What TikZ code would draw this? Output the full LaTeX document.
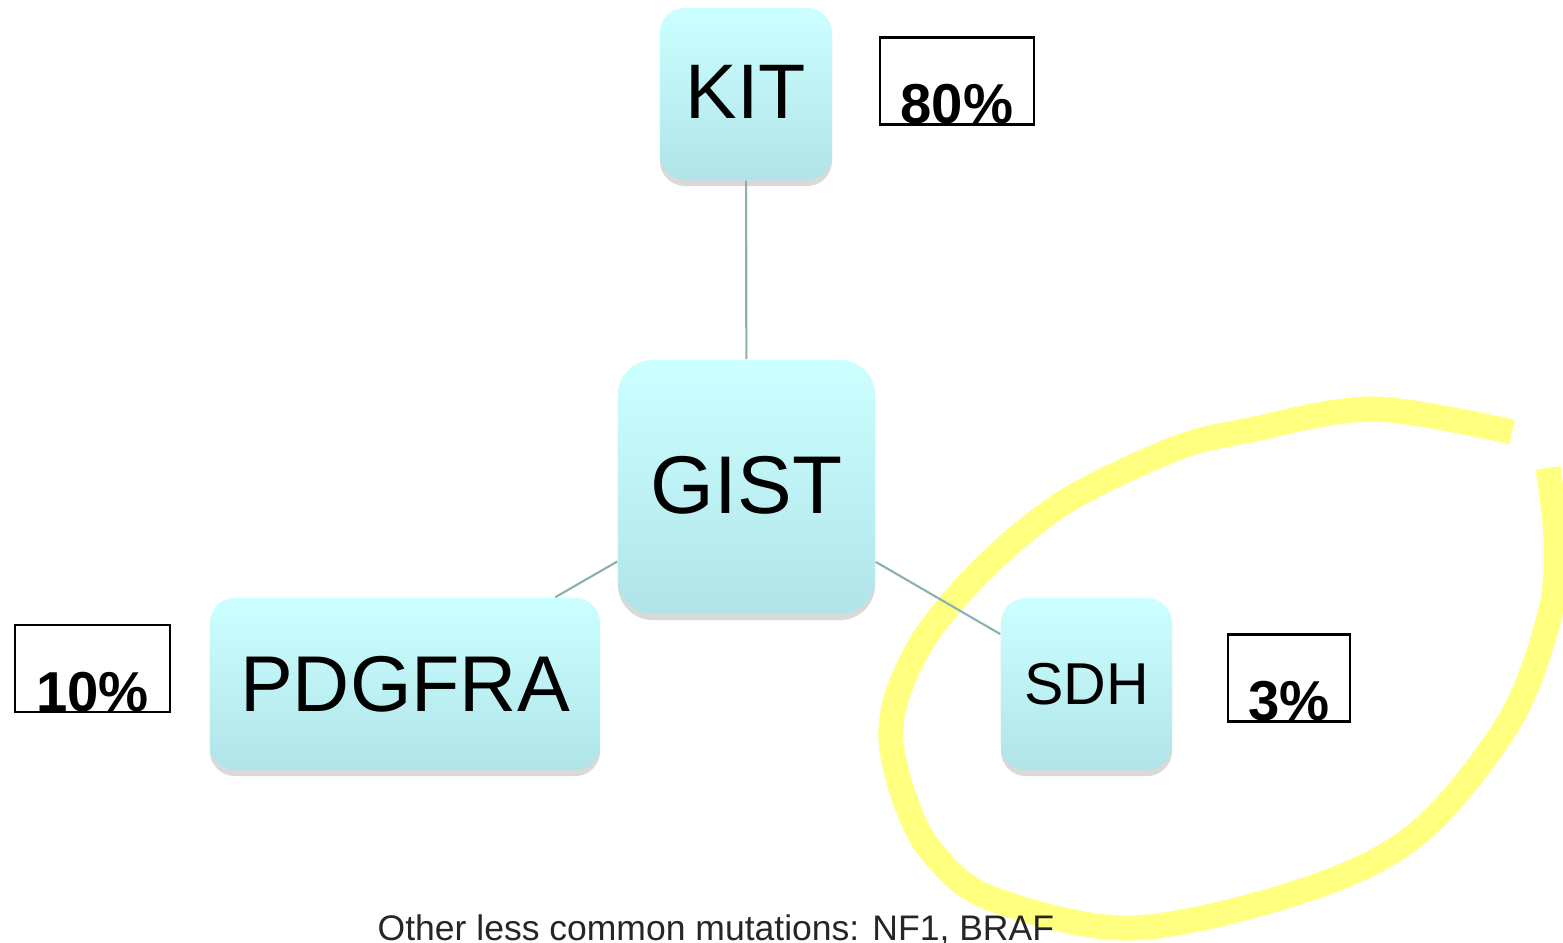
\documentclass[tikz,border=0pt]{standalone}
\usepackage{fontspec}
\setmainfont{Liberation Sans}
\usepackage{tikz}
\usetikzlibrary{shadows}

\definecolor{geneTop}{RGB}{204,255,255}
\definecolor{geneBottom}{RGB}{176,228,232}
\definecolor{linkGray}{RGB}{138,176,178}
\definecolor{hilite}{RGB}{255,255,128}

\begin{document}
\begin{tikzpicture}[x=0.01cm,y=-0.01cm,
  gene/.style={rounded corners=2.5mm,top color=geneTop,bottom color=geneBottom,
    drop shadow={shadow xshift=0pt,shadow yshift=-0.6mm,opacity=.3},
    align=center,inner sep=0pt},
  pct/.style={draw,line width=0.6pt,inner sep=0pt,minimum width=#1,
    text height=8.6mm,text depth=0.1mm,font=\bfseries\fontsize{16}{16}\selectfont},
  link/.style={draw=linkGray,line width=0.6pt},
  marker/.style={draw=hilite,line width=2.5mm,line join=round}
]
  \clip (0,0) rectangle (1563,943);
  % highlighter ring round SDH
  \draw[marker] plot[smooth,tension=0.55] coordinates {(1512,432) (1373,409) (1250,430)
    (1177,448) (1068,500) (990,562) (930,630) (899,690) (891,740) (905,800) (932,852)
    (990,898) (1132,928) (1305,890) (1418,833) (1509,722) (1550,614) (1556,540) (1548,468)};

  \node[gene,minimum width=17.2mm,minimum height=17.2mm,font=\fontsize{22}{22}\selectfont] (kit) at (746,94) {\raisebox{0.4mm}{KIT}};
  \node[gene,rounded corners=3.5mm,minimum width=25.7mm,minimum height=25.4mm,font=\fontsize{23.3}{23.3}\selectfont] (gist) at (746.5,487) {\raisebox{0.4mm}{GIST}};
  \node[gene,minimum width=39mm,minimum height=17.2mm,font=\fontsize{22.5}{22.5}\selectfont] (pdgfra) at (405,684) {PDGFRA};
  \node[gene,minimum width=17.1mm,minimum height=17.2mm,font=\fontsize{16.8}{16.8}\selectfont] (sdh) at (1086.5,684) {SDH};

  \node[pct=15.4mm] (p80) at (957,81) {80\%};
  \node[pct=15.5mm] (p10) at (92.5,668.5) {10\%};
  \node[pct=12.2mm] (p3) at (1289,678) {3\%};

  \draw[link] (kit) -- (gist);
  \draw[link] (gist) -- (pdgfra);
  \draw[link] (gist) -- (sdh);

  \node[anchor=base west,inner sep=0pt,text=black!85,font=\fontsize{10.1}{12}\selectfont] (others) at (377,940) {Other less common mutations: NF1, BRAF};
\end{tikzpicture}
\end{document}
